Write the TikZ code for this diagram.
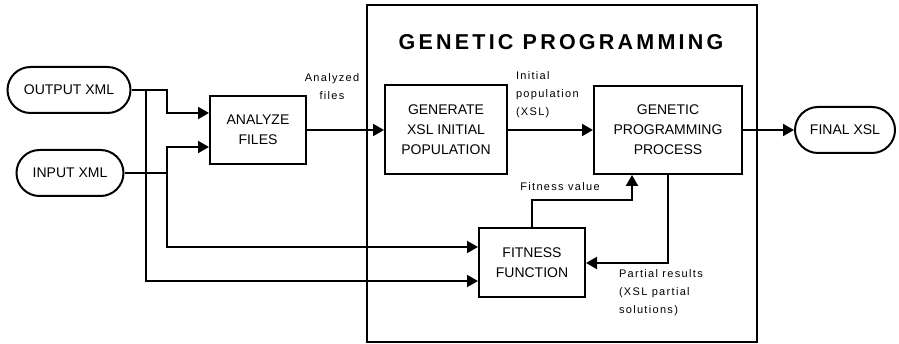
\documentclass[tikz,border=0pt]{standalone}
\usepackage{fontspec}
\setmainfont{Liberation Sans}
\newfontfamily\notefont[LetterSpace=12]{Liberation Sans}
\newfontfamily\titlefont[LetterSpace=15]{Liberation Sans}
\usetikzlibrary{arrows.meta,positioning}

\begin{document}
\begin{tikzpicture}[x=1pt,y=-1pt,>={Triangle[length=11pt,width=12pt]},
                    line width=2pt,
                    proc node/.style={rectangle,draw,align=center,inner sep=0pt,
                                      font=\fontsize{14}{20}\selectfont},
                    io node/.style={proc node,rounded corners=23pt,minimum height=46pt},
                    note text/.style={inner sep=0pt,align=left,
                                      font=\notefont\fontsize{11}{18}\selectfont}]
  \useasboundingbox (0,0) rectangle (899,344);

  % inputs and the analysis step
  \node[io node,minimum width=123pt] (out) at (69,90) {OUTPUT XML};
  \node[io node,minimum width=107pt] (in) at (70,173) {INPUT XML};
  \node[proc node,minimum width=96pt,minimum height=68pt] (analyze) at (258,130) {ANALYZE\\FILES};

  % the genetic programming block
  \node[draw,inner sep=0pt,minimum width=390pt,minimum height=337pt] (gp) at (562,173.5) {};
  \node[font=\titlefont\bfseries\fontsize{21.5}{24}\selectfont] (title) at (561,42) {GENETIC PROGRAMMING};
  \node[proc node,minimum width=122pt,minimum height=89pt] (generate) at (446,130) {GENERATE\\XSL INITIAL\\POPULATION};
  \node[proc node,minimum width=148pt,minimum height=88pt] (process) at (668,130) {GENETIC\\PROGRAMMING\\PROCESS};
  \node[proc node,minimum width=106pt,minimum height=69pt] (fitness) at (532,263) {FITNESS\\FUNCTION};
  \node[io node,minimum width=100pt] (final) at (845,130) {FINAL XSL};

  \coordinate (out fork) at (146,90);
  \coordinate (in fork) at (167,173);

  \draw[->] (out.east) -- (in fork |- out.east) |- ([yshift=17pt]analyze.west);
  \draw[->] (in.east) -- (in fork) |- ([yshift=-17pt]analyze.west);
  \draw[->] (out fork) |- ([yshift=-18pt]fitness.west);
  \draw[->] (in fork) |- ([yshift=16pt]fitness.west);

  \draw[->] (analyze.east) -- (generate.west);
  \draw[->] (generate.east) -- (process.west);
  \draw[->] (process.east) -- (final.west);
  \draw[->] (fitness.north) -- ++(0,-27) -| ([xshift=-36pt]process.south);
  \draw[->] (process.south) |- (fitness.east);

  % edge labels
  \node[note text,align=center] (analyzed) at (332,87) {Analyzed\\files};
  \node[note text,anchor=north west] (initial) at (515,71) {Initial\\population\\(XSL)};
  \node[note text] (fitval) at (560,187) {Fitness value};
  \node[note text,anchor=north west] (partial) at (618,269) {Partial results\\(XSL partial\\solutions)};
\end{tikzpicture}
\end{document}
